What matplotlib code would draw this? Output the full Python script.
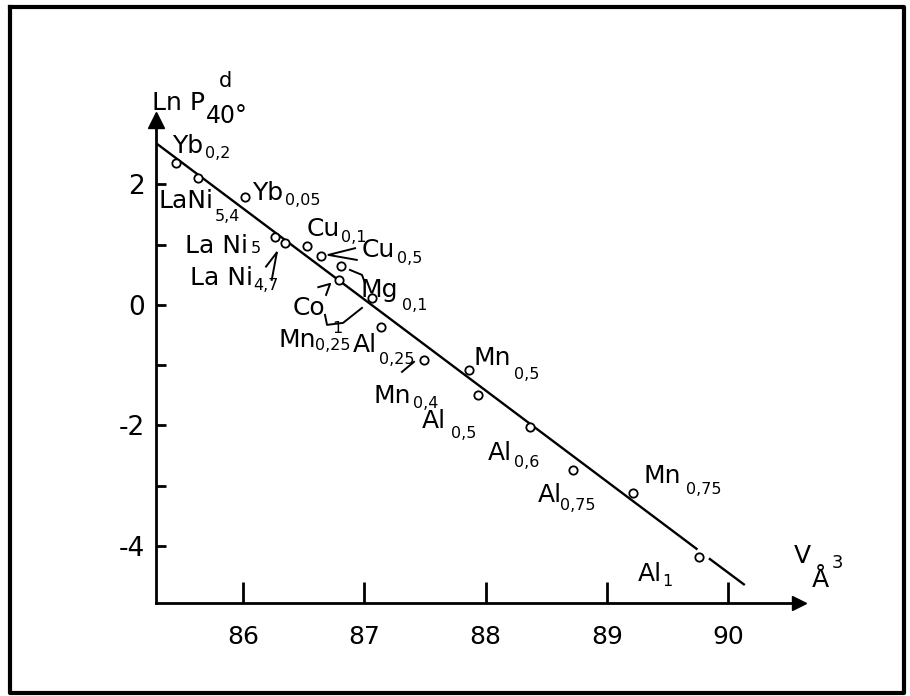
import matplotlib
matplotlib.use("Agg")
import matplotlib.pyplot as plt
from matplotlib.lines import Line2D

# cell volume V (A^3) and Ln P (desorption, 40 C)
v_cell = [85.45, 85.63, 86.02, 86.26, 86.35, 86.53, 86.64, 86.81, 86.79,
          87.06, 87.14, 87.49, 87.86, 87.94, 88.37, 88.72, 89.22, 89.76]
ln_p = [2.35, 2.10, 1.79, 1.13, 1.02, 0.98, 0.81, 0.65, 0.42,
        0.11, -0.36, -0.91, -1.08, -1.49, -2.02, -2.74, -3.13, -4.18]

# straight line drawn through the points (broken round the Al1 circle)
fit_v1 = [85.30, 89.74]
fit_lnp1 = [2.66, -4.05]
fit_v2 = [89.85, 90.13]
fit_lnp2 = [-4.22, -4.64]

x_ticks = [86, 87, 88, 89, 90]
y_ticks = [-4, -2, 0, 2]
y_minor = [-3, -1, 1]

# labels: element symbol + subscript
lab_base = ["Yb", "LaNi", "Yb", "Cu", "La Ni", "La Ni", "Cu", "Mg", "Co",
            "Mn", "Al", "Mn", "Mn", "Al", "Al", "Al", "Mn", "Al"]
lab_sub = ["0,2", "5,4", "0,05", "0,1", "5", "4,7", "0,5", "0,1", "",
           "0,25", "0,25", "0,4", "0,5", "0,5", "0,6", "0,75", "0,75", "1"]
lab_x = [85.412, 85.299, 86.072, 86.528, 85.522, 85.563, 86.979, 86.965, 86.412,
         86.290, 86.905, 87.072, 87.897, 87.474, 88.021, 88.433, 89.299, 89.258]
lab_y = [2.518, 1.610, 1.743, 1.145, 0.863, 0.332, 0.802, 0.138, -0.166,
         -0.692, -0.775, -1.627, -0.996, -2.046, -2.573, -3.265, -2.954, -4.593]
# subscript shift in pixels (right, down)
sub_dx = [2, 2, 2, 1, 3, 0, 2, 4, 0, -1, 2, 2, 3, 5, 2, -2, 5, 0]
sub_dy = [5, 13, 5, 6, 0, 5, 6, 13, 0, 3, 12, 5, 14, 10, 7, 8, 11, 5]

# little pointer strokes
ptr_x = [[86.190, 86.278], [86.237, 86.278],
         [86.924, 86.704, 86.938],
         [86.882, 86.981, 87.006],
         [86.621, 86.718, 86.685],
         [86.676, 86.693, 86.825, 86.981],
         [87.311, 87.410]]
ptr_y = [[0.636, 0.868], [0.415, 0.858],
         [0.941, 0.830, 0.747],
         [0.581, 0.498, 0.365],
         [0.294, 0.349, 0.166],
         [-0.166, -0.332, -0.299, -0.050],
         [-1.112, -0.946]]

plt.rcParams['font.family'] = ['DejaVu Sans']
plt.rcParams['axes.unicode_minus'] = False

fig = plt.figure(figsize=(9.1, 6.96), dpi=100)
ax = fig.add_axes([156 / 910, 93 / 696, 643 / 910, 483 / 696])
ax.set_xlim(85.2825, 90.585)
ax.set_ylim(-4.95, 3.07)

ax.plot(fit_v1, fit_lnp1, color="black", lw=1.7)
ax.plot(fit_v2, fit_lnp2, color="black", lw=1.7)
ax.plot(v_cell, ln_p, "o", ms=6, mfc="white", mec="black", mew=1.3, zorder=5)

for px, py in zip(ptr_x, ptr_y):
    ax.plot(px, py, color="black", lw=1.4)

# axes with arrow heads
for s in ["top", "right"]:
    ax.spines[s].set_visible(False)
for s in ["left", "bottom"]:
    ax.spines[s].set_linewidth(2.0)
ax.plot(0, 1, "^", color="black", ms=12, transform=ax.transAxes, clip_on=False)
ax.plot(1, 0, ">", color="black", ms=10, transform=ax.transAxes, clip_on=False)

ax.set_xticks(x_ticks)
ax.set_xticklabels([str(v) for v in x_ticks])
ax.set_yticks(y_ticks)
ax.set_yticklabels([str(v) for v in y_ticks])
ax.set_yticks(y_minor, minor=True)
ax.tick_params(axis="x", direction="in", length=15, width=2, pad=16, labelsize=18)
ax.tick_params(axis="y", which="both", direction="in", length=7, width=2, pad=8,
               labelsize=19)

renderer = fig.canvas.get_renderer()


def chem(x, y, base, sub, dx, dy):
    t = ax.text(x, y, base, fontsize=18, ha="left", va="baseline")
    if sub:
        bb = t.get_window_extent(renderer)
        bx, by = ax.transData.transform((x, y))
        sx, sy = ax.transData.inverted().transform((bb.x1 + dx, by - dy))
        ax.text(sx, sy, sub, fontsize=11.5, ha="left", va="baseline")


for i in range(len(lab_base)):
    chem(lab_x[i], lab_y[i], lab_base[i], lab_sub[i], sub_dx[i], sub_dy[i])

# the little "1" of the Co / Mn bracket
ax.text(86.74, -0.47, "1", fontsize=11.5, ha="left", va="baseline")

# axis titles
ax.text(85.249, 3.237, "Ln P", fontsize=18, ha="left", va="baseline")
ax.text(85.695, 3.021, "40°", fontsize=17, ha="left", va="baseline")
ax.text(85.80, 3.62, "d", fontsize=15, ha="left", va="baseline")
ax.text(90.544, -4.282, "V", fontsize=18, ha="left", va="baseline")
ax.text(90.693, -4.68, "Å", fontsize=18, ha="left", va="baseline")
ax.text(90.858, -4.365, "3", fontsize=13, ha="left", va="baseline")

# outer frame of the scanned figure
W, H = 910, 696
frame = [(10, 7), (904, 7), (904, 693), (10, 693), (10, 7)]
fig.add_artist(Line2D([p[0] / W for p in frame], [1 - p[1] / H for p in frame],
                      color="black", lw=3, transform=fig.transFigure))

fig.savefig("out.png", dpi=100)
